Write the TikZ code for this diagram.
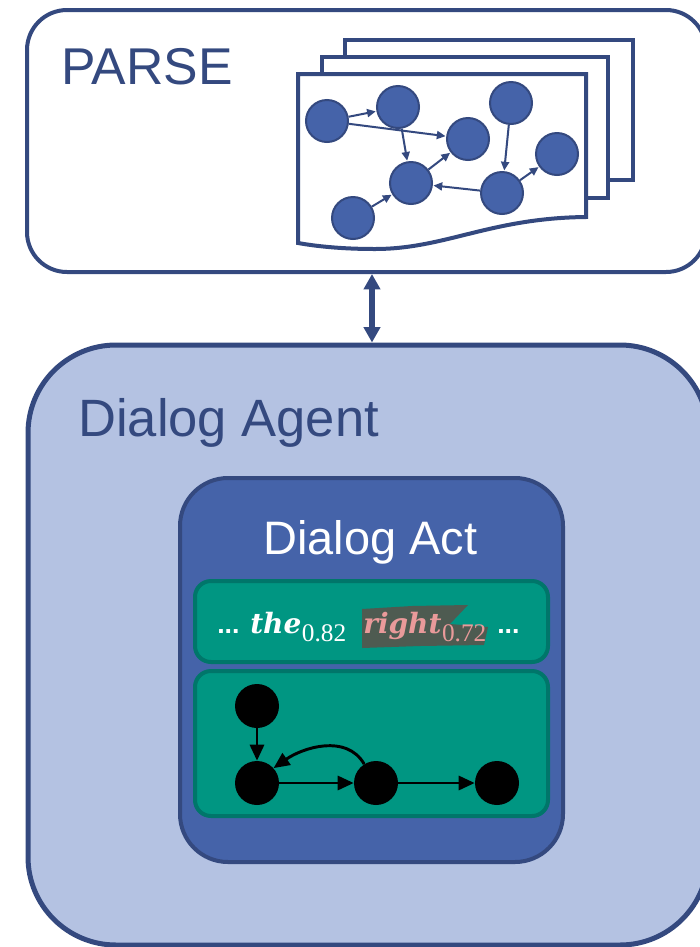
\documentclass[tikz,border=0pt]{standalone}
\usepackage{fontspec}
\setmainfont{Liberation Sans}
\newfontfamily\wordfont{DejaVu Serif}
\newfontfamily\subfont{Liberation Serif}
\usetikzlibrary{arrows.meta,fit}

\definecolor{navy}{HTML}{34497F}
\definecolor{midblue}{HTML}{4563A9}
\definecolor{paleblue}{HTML}{B4C2E2}
\definecolor{actgreen}{HTML}{009682}
\definecolor{actgreenedge}{HTML}{00766A}
\definecolor{hlgray}{HTML}{4E5B51}
\definecolor{softpink}{HTML}{E99A9A}

\tikzset{
  panel/.style={draw=navy, line width=3pt, inner sep=0pt},
  sheet/.style={draw=navy, fill=white, line width=3pt, line join=miter},
  gnode/.style={circle, fill=midblue, draw=navy, line width=1.5pt,
                minimum size=31.5pt, inner sep=0pt},
  garrow/.style={draw=navy, line width=1.5pt,
                 -{Triangle[length=6.5pt,width=6pt]}, shorten >=0.5pt},
  bnode/.style={circle, fill=black, minimum size=33pt, inner sep=0pt},
  barrow/.style={draw=black, line width=2.2pt,
                 -{Triangle[length=12pt,width=10.5pt]}},
  greenbox/.style={draw=actgreenedge, fill=actgreen, line width=3pt,
                   rounded corners=12pt, inner sep=0pt},
  word/.style={anchor=base west, inner sep=0pt,
               font=\wordfont\bfseries\itshape\fontsize{21}{24}\selectfont},
  subnum/.style={anchor=base west, inner sep=0pt,
                 font=\subfont\fontsize{19}{20}\selectfont},
  dots/.style={anchor=base west, inner sep=0pt, text=white,
               font=\bfseries\fontsize{20}{22}\selectfont},
}

\begin{document}
\begin{tikzpicture}[x=0.75pt, y=-0.75pt]
\useasboundingbox (0,0) rectangle (700,947);

% ---- top panel ----
\node[panel, fill=white, rounded corners=30pt, fit={(27,10) (706,272)}] (parse) {};
\node[anchor=base west, inner sep=0pt, text=navy,
      font=\fontsize{38.8}{40}\selectfont] (parselabel) at (61,84) {PARSE};

% stack of parse sheets
\draw[sheet] (345,40) rectangle (633,180);
\draw[sheet] (322,57) rectangle (608,198);
\draw[sheet] (298,243) -- (298,74) -- (586,74) -- (586,217)
  .. controls (490,218) and (445,249) .. (375,249)
  .. controls (340,249) and (315,246) .. (298,243) -- cycle;

% parse graph
\node[gnode] (g1) at (327,121) {};
\node[gnode] (g2) at (398,107) {};
\node[gnode] (g3) at (468,139) {};
\node[gnode] (g4) at (511,103) {};
\node[gnode] (g5) at (557,154) {};
\node[gnode] (g6) at (411,183) {};
\node[gnode] (g7) at (502,193) {};
\node[gnode] (g8) at (353,218) {};
\draw[garrow] (g1) -- (g2);
\draw[garrow] (g1) -- (g3);
\draw[garrow] (g2) -- (g6);
\draw[garrow] (g6) -- (g3);
\draw[garrow] (g8) -- (g6);
\draw[garrow] (g4) -- (g7);
\draw[garrow] (g7) -- (g6);
\draw[garrow] (g7) -- (g5);

% ---- agent panel ----
\node[panel, fill=paleblue, line width=3.75pt, rounded corners=66pt,
      fit={(28,345) (708,945)}] (agent) {};
\node[anchor=base west, inner sep=0pt, text=navy,
      font=\fontsize{39.4}{42}\selectfont] (agentlabel) at (78,436) {Dialog Agent};

% link between the panels
\coordinate (ax) at (372,300);
\draw[navy, line width=4.5pt, {Triangle[length=11.5pt,width=12pt]}-{Triangle[length=11.5pt,width=12pt]}]
  (parse.south -| ax) -- (agent.north -| ax);

% ---- dialog act ----
\node[panel, fill=midblue, rounded corners=36pt, fit={(180,478) (563,862)}] (act) {};
\node[anchor=base west, inner sep=0pt, text=white,
      font=\fontsize{35.2}{38}\selectfont] (actlabel) at (263,554) {Dialog Act};

% utterance strip
\node[greenbox, fit={(195,581) (548,662)}] (utter) {};
\fill[hlgray] (362,609) -- (412,606) -- (468,605) -- (450,624) -- (488,627)
  -- (484,645) -- (420,646) -- (362,648) -- cycle;
\node[dots] (d1) at (217,633) {...};
\node[word, text=white] (w1) at (250,633) {the};
\node[subnum, text=white] (s1) at ([yshift=-6.5pt]w1.base east) {0.82};
\node[word, text=softpink] (w2) at (363,633) {right};
\node[subnum, text=softpink] (s2) at ([yshift=-6.5pt]w2.base east) {0.72};
\node[dots] (d2) at (497,633) {...};

% act graph strip
\node[greenbox, fit={(195,671) (548,816)}] (graphbox) {};
\node[bnode] (a) at (257,706) {};
\node[bnode] (b) at (257,783) {};
\node[bnode] (c) at (376,783) {};
\node[bnode] (d) at (497,783) {};
\draw[barrow] (a) -- (b);
\draw[barrow] (b) -- (c);
\draw[barrow] (c) -- (d);
\draw[barrow] (c.122) to[out=120, in=35] (b.42);
\end{tikzpicture}
\end{document}
